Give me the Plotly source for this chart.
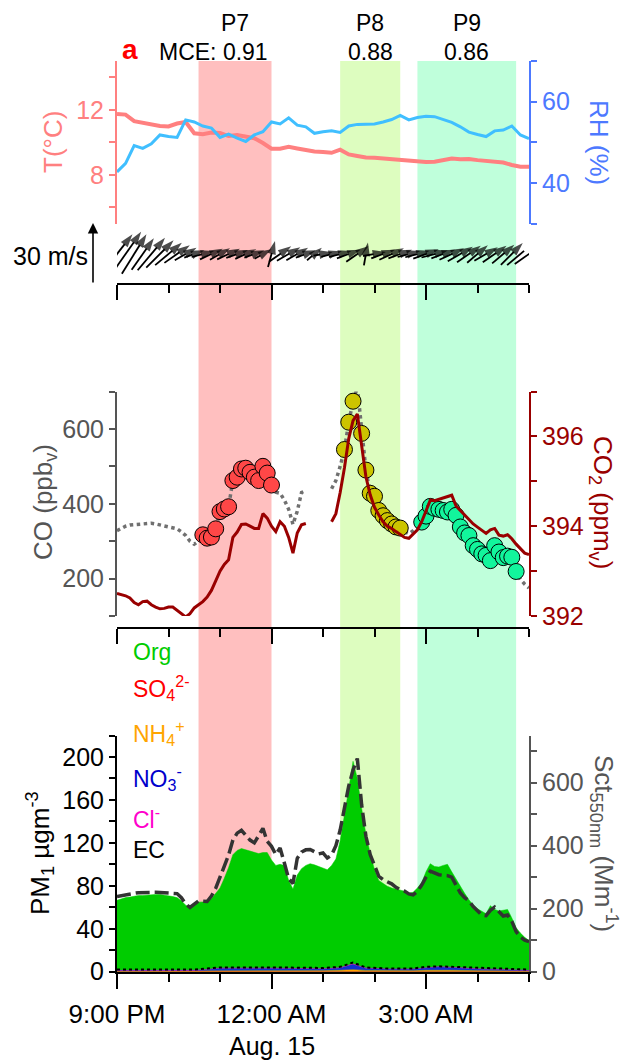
import numpy as np
import pandas as pd
import plotly.graph_objects as go

# ---------------- data ----------------
t_start = pd.Timestamp("2019-08-14 21:00")
t_end = pd.Timestamp("2019-08-15 05:00")
t5 = pd.date_range(t_start, t_end, freq="5min")    # CO, CO2, PM, scattering
t10 = pd.date_range(t_start, t_end, freq="10min")  # T, RH, wind

temp = [11.74, 11.7, 11.3, 11.2, 11.08, 11.0, 10.97, 11.15, 11.25, 10.55,
        10.5, 10.6, 10.57, 10.38, 10.45, 10.35, 10.25, 9.95, 9.6, 9.6,
        9.72, 9.62, 9.5, 9.43, 9.4, 9.35, 9.54, 9.25, 9.15, 9.06,
        9.05, 9.0, 8.95, 8.9, 8.88, 8.86, 8.78, 8.8, 8.92, 9.0,
        8.95, 8.97, 8.9, 8.85, 8.82, 8.75, 8.6, 8.5, 8.5]
rh = [42.7, 44.8, 49.2, 48.5, 49.6, 51.8, 51.4, 51.2, 55.5, 55.0,
      54.0, 53.5, 51.2, 52.0, 51.0, 50.2, 51.8, 52.6, 55.0, 54.5,
      56.0, 54.2, 53.8, 52.2, 52.6, 52.8, 52.4, 54.0, 54.4, 54.5,
      54.5, 55.0, 55.6, 56.6, 55.5, 56.1, 56.4, 56.3, 55.6, 54.9,
      53.8, 52.5, 51.9, 51.4, 52.8, 53.0, 54.0, 51.8, 50.9]
wind_speed = [26, 28, 24, 20, 22, 20, 18, 16, 13, 11,
              12, 13, 12, 13, 12, 12, 11, 10, 14, 14,
              14, 13, 11, 10, 10, 11, 12, 13, 14, 12,
              12, 13, 14, 13, 12, 13, 14, 14, 13, 14,
              15, 15, 14, 14, 15, 15, 16, 18, 18]
wind_angle = [52, 55, 58, 55, 50, 45, 40, 35, 30, 20,
              15, 25, 30, 25, 20, 25, 20, 30, 75, 35,
              30, 30, 20, 40, 10, 15, 15, 20, 35, 80,
              10, 20, 25, 20, 15, 15, 20, 15, 20, 25,
              30, 35, 40, 30, 35, 40, 45, 40, 35]

co = [328, 335, 340, 343, 344, 345, 346, 347, 348, 346,
      343, 340, 337, 334, 333, 325, 315, 300, 292, 300,
      317, 308, 311, 333, 379, 386, 392, 462, 471, 493,
      495, 484, 471, 462, 500, 482, 450, 431, 428, 410,
      385, 345, 380, 430, 435, None, None, None, None, None,
      440, 462, 500, 545, 618, 674, 711, 588, 490, 428,
      420, 382, 368, 355, 346, 338, 335, 325, 320, 328,
      340, 351, 367, 393, 388, 385, 382, 378, 385, 369,
      338, 322, 315, 288, 278, 266, 262, 248, 288, 271,
      256, 260, 257, 219, 198, 185, 175]
co2 = [392.5, 392.48, 392.45, 392.4, 392.3, 392.25, 392.32, 392.33, 392.25, 392.2,
       392.16, 392.17, 392.2, 392.2, 392.13, 392.05, 391.98, 392.05, 392.18, 392.25,
       392.32, 392.42, 392.57, 392.78, 393.0, 393.15, 393.25, 393.75, 393.87, 394.04,
       394.05, 394.0, 393.95, 393.95, 394.28, 394.18, 394.0, 393.88, 394.1, 394.0,
       393.75, 393.4, 393.85, 394.03, 394.06, None, None, None, None, None,
       394.1, 394.28, 394.75, 395.3, 395.95, 396.35, 396.5, 395.8, 395.1, 394.7,
       394.42, 394.25, 394.1, 394.0, 393.95, 393.88, 393.81, 393.75, 393.73, 393.82,
       393.92, 394.1, 394.35, 394.58, 394.57, 394.6, 394.63, 394.66, 394.69, 394.45,
       394.35, 394.25, 394.16, 394.05, 393.98, 393.9, 393.84, 393.92, 393.95, 393.8,
       393.78, 393.81, 393.72, 393.6, 393.5, 393.4, 393.37]
org = [66.5, 68, 69, 69.5, 70.5, 71, 71, 71.5, 71.5, 72,
       72, 71.5, 71, 70, 69, 66, 62, 60, 62, 64.8,
       65, 65, 68, 73, 78, 87, 97, 109, 113, 114.7,
       113.5, 112.4, 111, 110, 111, 111, 104, 99, 100, 99,
       85, 77, 90, 96, 99, 100.6, 99.5, 98, 96.5, 95,
       99, 105, 122, 145, 170, 196, 180, 152, 128, 110,
       95, 85, 82, 79.5, 78, 77, 75.5, 75, 73, 74,
       78, 83, 93, 100.6, 98, 97.5, 99, 100, 93, 86,
       80, 73, 67, 62, 58.6, 56, 54, 61.5, 58, 56.5,
       57.5, 58, 50, 41, 36, 32, 29]
sct = [239, 242, 245, 247, 249, 251, 252, 252, 252, 252,
       251, 250, 250, 249, 248, 235, 215, 204, 215, 225,
       224, 223, 240, 265, 300, 335, 370, 418, 440, 449,
       435, 418, 409, 435, 455, 414, 398, 372, 393, 345,
       295, 280, 360, 380, 387, 388, 382, 374, 377, 361,
       370, 400, 450, 520, 590, 640, 677, 530, 430, 372,
       335, 303, 292, 285, 279, 268, 260, 256, 247, 244,
       255, 275, 300, 319, 312, 308, 306, 305, 300, 275,
       250, 235, 225, 207, 192, 180, 178, 195, 205, 190,
       177, 180, 160, 127, 110, 100, 96]

minor_hours = [0, 1.0, 1.5, 1.75, 2.0, 3.0, 3.5, 4.0, 4.33, 4.58,
               4.83, 5.25, 5.75, 6.0, 6.25, 6.5, 7.0, 7.5, 8.0]
so4 = [0.2, 0.2, 0.2, 0.3, 0.4, 0.4, 0.3, 0.3, 0.4, 0.6, 0.4, 0.3, 0.3, 0.4, 0.5, 0.4, 0.3, 0.3, 0.2]
nh4 = [0.3, 0.3, 0.3, 0.5, 0.8, 0.8, 0.7, 0.7, 0.9, 1.3, 0.8, 0.6, 0.6, 0.9, 1.0, 0.9, 0.7, 0.5, 0.3]
no3 = [0.6, 0.6, 0.7, 1.2, 2.0, 2.0, 1.6, 1.6, 2.2, 5.0, 2.0, 1.5, 1.5, 2.4, 3.0, 2.6, 1.6, 1.2, 0.6]
cl = [0.1, 0.1, 0.1, 0.1, 0.2, 0.2, 0.1, 0.1, 0.2, 0.4, 0.2, 0.1, 0.1, 0.2, 0.2, 0.2, 0.1, 0.1, 0.1]
ec = [2.0, 2.0, 2.0, 3.0, 4.0, 4.0, 3.5, 3.5, 4.5, 8.5, 4.0, 3.0, 3.0, 4.5, 5.0, 4.5, 3.5, 3.0, 2.0]

period_names = ["P7", "P8", "P9"]
period_mce = ["MCE: 0.91", "0.88", "0.86"]
period_start = ["2019-08-14 22:35", "2019-08-15 01:20", "2019-08-15 02:50"]
period_end = ["2019-08-15 00:00", "2019-08-15 02:30", "2019-08-15 04:45"]
shade_colors = ["#FFBFBF", "#DDFDBF", "#BFFFDB"]
marker_colors = ["#FF4747", "#CCC400", "#12F59C"]

xtick_vals = ["2019-08-14 21:00", "2019-08-15 00:00", "2019-08-15 03:00"]
xtick_text = ["9:00 PM", "12:00 AM", "3:00 AM"]

# ---------------- layout geometry (pixels) ----------------
W, H = 627, 1062
X0, X1 = 117, 529
FONT = "Liberation Sans, Arial, sans-serif"
SALMON = "#FF8080"
RHLINE = "#40BFFF"
RHAXIS = "#4D79FF"
GRAY = "#555555"
DKRED = "#990000"
TICKF = 25
TITLEF = 26


def py(p):
    return 1 - p / H


def pxx(p):
    return (p - X0) / (X1 - X0)


def ts(t):
    return pd.Timestamp(t).strftime("%Y-%m-%d %H:%M:%S.%f")[:-3]


fig = go.Figure()

# T / RH
fig.add_trace(go.Scatter(x=t10, y=temp, mode="lines", line=dict(color=SALMON, width=4),
                         xaxis="x2", yaxis="y"))
fig.add_trace(go.Scatter(x=t10, y=rh, mode="lines", line=dict(color=RHLINE, width=3),
                         xaxis="x2", yaxis="y2"))

# wind sticks, centred on the time stamp; 30 m/s = 58 px
px_per_hour = (X1 - X0) / 8.0
px_per_ms = 58 / 30
wx, wy, wsz = [], [], []
for t, s, a in zip(t10, wind_speed, wind_angle):
    u = s * np.cos(np.radians(a))
    v = s * np.sin(np.radians(a))
    dx = pd.Timedelta(hours=u * px_per_ms / px_per_hour / 2)
    wx += [ts(t - dx), ts(t + dx), None]
    wy += [-v / 2, v / 2, None]
    wsz += [0, 14, 0]
fig.add_trace(go.Scatter(x=wx, y=wy, mode="lines+markers", line=dict(color="black", width=1.8),
                         marker=dict(symbol="arrow", size=wsz, color="black", angleref="previous",
                                     line=dict(width=0)),
                         xaxis="x2", yaxis="y3", cliponaxis=False, connectgaps=False))

# CO line and CO2
fig.add_trace(go.Scatter(x=t5, y=co, mode="lines", line=dict(color="#707070", width=3.5, dash="dot"),
                         xaxis="x3", yaxis="y4", connectgaps=False))
fig.add_trace(go.Scatter(x=t5, y=co2, mode="lines", line=dict(color=DKRED, width=3),
                         xaxis="x3", yaxis="y5", connectgaps=False))
# CO markers during periods
co_s = pd.Series(co, index=t5, dtype="float")
for name, s, e, mc in zip(period_names, period_start, period_end, marker_colors):
    sel = co_s[(co_s.index > pd.Timestamp(s)) & (co_s.index <= pd.Timestamp(e))]
    fig.add_trace(go.Scatter(x=sel.index, y=sel.values, mode="markers",
                             marker=dict(size=16, color=mc, line=dict(color="black", width=1)),
                             xaxis="x3", yaxis="y4", cliponaxis=False))

# PM1 composition
fig.add_trace(go.Scatter(x=t5, y=org, mode="lines", fill="tozeroy", fillcolor="#00CC00",
                         line=dict(color="#00CC00", width=0.5), xaxis="x", yaxis="y6"))
t_minor = [t_start + pd.Timedelta(hours=h) for h in minor_hours]
for vals, col in [(so4, "#FF0000"), (nh4, "#FFA500"), (no3, "#1030D0"), (cl, "#FF00CC")]:
    fig.add_trace(go.Scatter(x=t_minor, y=vals, mode="lines", stackgroup="inorg",
                             fillcolor=col, line=dict(color=col, width=0.5),
                             xaxis="x", yaxis="y6"))
fig.add_trace(go.Scatter(x=t_minor, y=ec, mode="lines", line=dict(color="black", width=2, dash="dot"),
                         xaxis="x", yaxis="y6"))
fig.add_trace(go.Scatter(x=t5, y=sct, mode="lines", line=dict(color="#333333", width=3.5, dash="14px,5px"),
                         xaxis="x", yaxis="y7"))

# ---------------- annotations ----------------
ann = []


def text_at(x, y, text, size, color, angle=0, xanchor="center", yanchor="middle", **kw):
    d = dict(x=pxx(x), y=py(y), xref="paper", yref="paper", text=text, showarrow=False,
             textangle=angle, xanchor=xanchor, yanchor=yanchor, font=dict(size=size, color=color))
    d.update(kw)
    ann.append(d)


# scale arrow for wind
ann.append(dict(x=pxx(93), y=py(223), xref="paper", yref="paper", ax=0, ay=61,
                showarrow=True, arrowhead=2, arrowsize=1.3, arrowwidth=1.6, arrowcolor="black", text=""))
text_at(50, 256, "30 m/s", 25, "black")

# period labels
for name, mce, s, e in zip(period_names, period_mce, period_start, period_end):
    mid = pd.Timestamp(s) + (pd.Timestamp(e) - pd.Timestamp(s)) / 2
    ann.append(dict(x=ts(mid), y=py(23), xref="x", yref="paper", text=name, showarrow=False,
                    xanchor="center", yanchor="middle", font=dict(size=23, color="black")))
    shift = -22 if mce.startswith("MCE") else 0
    ann.append(dict(x=ts(mid), y=py(52), xref="x", yref="paper", text=mce, showarrow=False,
                    xanchor="center", yanchor="middle", xshift=shift, font=dict(size=23, color="black")))
text_at(130, 49, "<b>a</b>", 28, "#FF0000")

# axis titles
text_at(53, 142, "T(°C)", TITLEF, SALMON, angle=-90)
text_at(599, 142, "RH (%)", TITLEF, RHAXIS, angle=90)
text_at(44, 502, "CO (ppb<sub>v</sub>)", TITLEF, GRAY, angle=-90)
text_at(602, 502, "CO<sub>2</sub> (ppm<sub>v</sub>)", TITLEF, DKRED, angle=90)
text_at(40, 853, "PM<sub>1</sub> µgm<sup>-3</sup>", TITLEF, "black", angle=-90)
text_at(604, 843, "Sct<sub>550nm</sub> (Mm<sup>-1</sup>)", TITLEF, GRAY, angle=90)

# legend text
legend_items = [("Org", "#00CC00", 652), ("SO<sub>4</sub><sup>2-</sup>", "#FF0000", 688),
                ("NH<sub>4</sub><sup>+</sup>", "#FFA500", 733), ("NO<sub>3</sub><sup>-</sup>", "#0000CC", 778),
                ("Cl<sup>-</sup>", "#FF00CC", 818), ("EC", "black", 850)]
for txt, col, yy in legend_items:
    text_at(131, yy, txt, 23, col, xanchor="left")
ann.append(dict(x=ts("2019-08-15 00:00"), y=py(1046), xref="x", yref="paper", text="Aug. 15",
                showarrow=False, xanchor="center", yanchor="middle", font=dict(size=25, color="black")))

# shaded periods
shapes = []
for s, e, c in zip(period_start, period_end, shade_colors):
    shapes.append(dict(type="rect", xref="x", yref="paper", x0=s, x1=e, y0=py(971.7), y1=py(61),
                       fillcolor=c, line=dict(width=0), layer="below"))

xcommon = dict(type="date", range=[ts(t_start), ts(t_end)], showgrid=False, zeroline=False,
               showline=True, linecolor="black", linewidth=2, ticks="outside", ticklen=15,
               tickwidth=2, tickcolor="black", tickvals=xtick_vals, ticktext=xtick_text,
               minor=dict(dtick=3600000, tick0="2019-08-14 21:00", ticklen=8, tickwidth=2,
                          tickcolor="black", ticks="outside"))


def yax(color, rng, dtick, mdtick, tick0=0, **kw):
    d = dict(range=rng, showgrid=False, zeroline=False, showline=True, linecolor=color, linewidth=2,
             ticks="outside", ticklen=6, tickwidth=2, tickcolor=color, dtick=dtick, tick0=tick0,
             tickfont=dict(size=TICKF, color=color),
             minor=dict(dtick=mdtick, tick0=tick0, ticklen=6, tickwidth=2, tickcolor=color, ticks="outside"))
    d.update(kw)
    return d


fig.update_layout(
    width=W, height=H, margin=dict(l=X0, r=W - X1, t=0, b=0, autoexpand=False),
    paper_bgcolor="white", plot_bgcolor="rgba(0,0,0,0)", showlegend=False,
    font=dict(family=FONT, size=TICKF, color="black"),
    xaxis=dict(xcommon, anchor="y6", domain=[0, 1], tickfont=dict(size=26), ticklabelstandoff=3),
    xaxis2=dict(xcommon, anchor="y3", matches="x", showticklabels=False),
    xaxis3=dict(xcommon, anchor="free", position=py(628.3), matches="x", showticklabels=False),
    yaxis=yax(SALMON, [5, 15], 4, 2, anchor="x2", domain=[py(223.5), py(61)]),
    yaxis2=yax(RHAXIS, [30, 70], 20, 10, anchor="x2", overlaying="y", side="right"),
    yaxis3=dict(domain=[py(283), py(225)], range=[-15, 15], anchor="x2", visible=False),
    yaxis4=yax(GRAY, [100, 700], 200, 100, anchor="x3", domain=[py(616), py(391.5)]),
    yaxis5=yax(DKRED, [392, 397], 2, 1, tick0=392, anchor="x3", overlaying="y4", side="right"),
    yaxis6=yax("black", [0, 220], 40, 20, anchor="x", domain=[py(971.7), py(735.5)]),
    yaxis7=yax(GRAY, [0, 750], 200, 100, anchor="x", overlaying="y6", side="right"),
    annotations=ann, shapes=shapes,
)

fig.write_html("out.html", config={"displayModeBar": False},
               post_script="document.body.style.margin='0';")
